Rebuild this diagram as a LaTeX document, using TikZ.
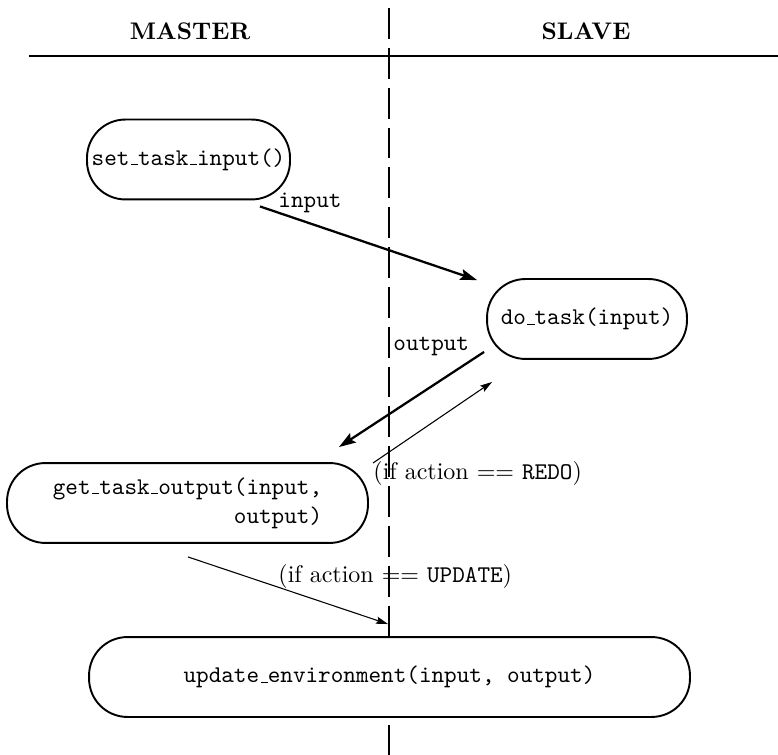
\documentclass[tikz,border=0pt]{standalone}
\usetikzlibrary{arrows.meta}
% classic short underscore rule, as in OT1 typewriter text
\newcommand\usc{\leavevmode\kern.06em\vbox{\hrule width.3em}}
\begin{document}
\begin{tikzpicture}[x=0.4167pt,y=-0.4167pt,
  stadium/.style={draw, line width=0.8pt, rounded corners=16pt, fill=white,
    inner sep=0pt, outer sep=0pt, minimum height=33.3pt, font=\ttfamily},
  lbl/.style={inner sep=0pt, anchor=base west},
  heavy/.style={line width=0.95pt, -{Stealth[length=7pt,width=4.6pt,inset=1.2pt]}},
  light/.style={line width=0.45pt, -{Stealth[length=5pt,width=3pt,inset=0.8pt]}},
]
\useasboundingbox (0,0) rectangle (778,755);

% lane headings and rule
\node[font=\bfseries, anchor=base] (hm) at (190,40) {MASTER};
\node[font=\bfseries, anchor=base] (hs) at (586,40) {SLAVE};
\coordinate (ruleL) at (29,56);
\coordinate (ruleR) at (778,56);
\draw[line width=1.1pt] (ruleL) -- (ruleR);

% dashed lane divider
\coordinate (laneT) at (389,8);
\coordinate (laneB) at (389,755);
\draw[line width=0.45pt, dash pattern=on 12.9pt off 3.7pt] (laneT) -- (laneB);

% steps
\node[stadium, minimum width=84.6pt] (set) at (188.5,159.5) {set\usc task\usc input()};
\node[stadium, minimum width=83.3pt] (dotask) at (587,319) {do\usc task(input)};
\node[stadium, minimum width=150.4pt, align=right] (get) at (187.5,503)
  {get\usc task\usc output(input,\\output)};
\node[stadium, minimum width=250.4pt] (update) at (389.5,677)
  {update\usc environment(input, output)};

% flows
\draw[heavy] ([shift={(-30,7)}]set.south east) -- ([shift={(-10,1)}]dotask.north west);
\draw[heavy] ([shift={(-3,-7)}]dotask.south west) -- ([shift={(-29,-16)}]get.north east);
\draw[light] ([shift={(5,0)}]get.north east) -- ([shift={(5,23)}]dotask.south west);
\draw[light] ([shift={(0.5,14)}]get.south) -- ([shift={(-1.5,-13)}]update.north);

% flow labels
\node[lbl, font=\ttfamily] (linput) at (278,208) {input};
\node[lbl, font=\ttfamily] (loutput) at (393,351) {output};
\node[lbl] (lredo) at (373,480) {(if action $==$ \texttt{REDO})};
\node[lbl] (lupdate) at (278,582) {(if action $==$ \texttt{UPDATE})};
\end{tikzpicture}
\end{document}
